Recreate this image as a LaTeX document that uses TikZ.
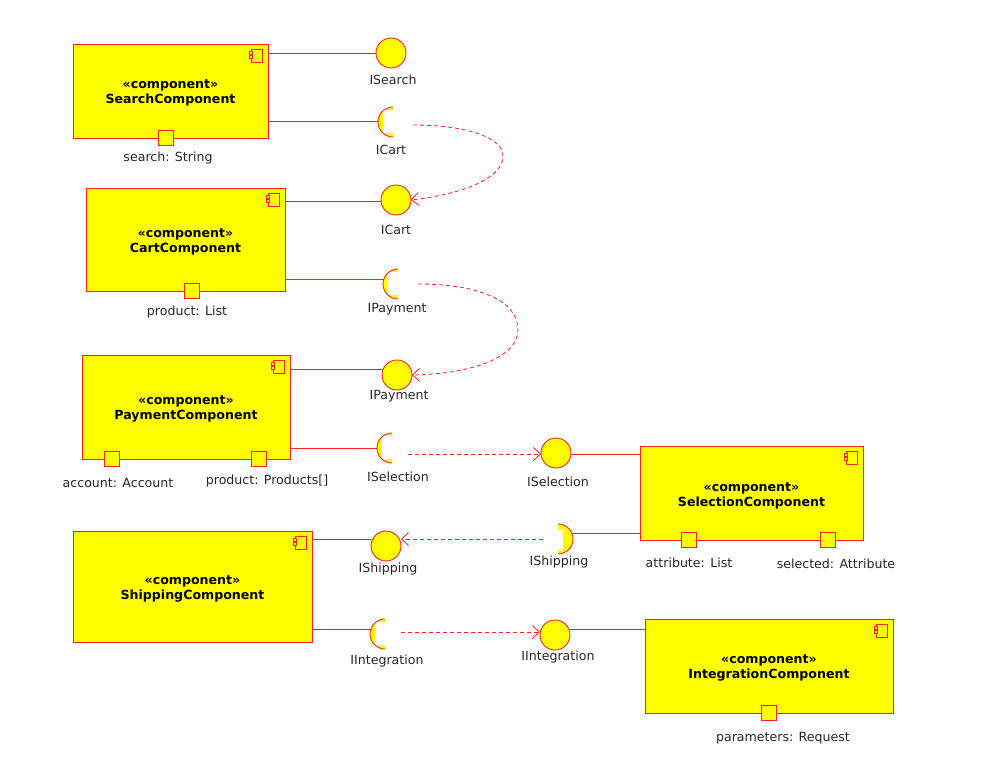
\documentclass[tikz,border=0pt]{standalone}
\usepackage{fontspec}
\setmainfont{DejaVu Sans}
\usetikzlibrary{arrows.meta}
\definecolor{ured}{HTML}{FF2020}
\definecolor{uyel}{HTML}{FFFF00}
\newcommand{\topstrut}{\rule{0pt}{13.6pt}}
\tikzset{
  comp/.style={draw=ured, fill=uyel, line width=0.9pt, anchor=north west, inner sep=0pt, outer sep=0pt, align=center, font=\fontsize{12.6}{15}\selectfont\bfseries},
  port/.style={draw=ured, fill=uyel, line width=0.9pt, minimum size=15pt, inner sep=0pt, outer sep=0pt},
  lolli/.style={circle, draw=ured, fill=uyel, line width=0.9pt, minimum size=30pt, inner sep=0pt, outer sep=0pt},
  lbl/.style={font=\fontsize{12.6}{14}\selectfont, inner sep=0pt, text=black!85, yshift=-1.5pt},
  conn/.style={draw=ured, line width=0.9pt},
  dep/.style={draw=ured, line width=0.8pt, dash pattern=on 4pt off 3pt, -{Straight Barb[length=7pt,width=13pt]}},
}
\newcommand{\compicon}[1]{%
  \draw[ured, line width=0.8pt, fill=uyel] ([xshift=-17pt,yshift=-5pt]#1.north east) rectangle ([xshift=-6pt,yshift=-18pt]#1.north east);
  \draw[ured, line width=0.6pt, fill=uyel] ([xshift=-19pt,yshift=-7.5pt]#1.north east) rectangle ([xshift=-16pt,yshift=-10pt]#1.north east);
  \draw[ured, line width=0.6pt, fill=uyel] ([xshift=-19pt,yshift=-11.5pt]#1.north east) rectangle ([xshift=-16pt,yshift=-14pt]#1.north east);
}
% socket opening to the right; #1 = name of coordinate at its centre
\newcommand{\socketR}[1]{%
  \fill[uyel] ([yshift=15pt]#1) arc[start angle=90,end angle=270,radius=15pt] -- cycle;
  \fill[white] ([xshift=-10pt,yshift=-11pt]#1) rectangle ([xshift=1pt,yshift=12pt]#1);
  \draw[ured, line width=0.9pt] ([yshift=15pt]#1) arc[start angle=90,end angle=270,radius=15pt];
}
% socket opening to the left
\newcommand{\socketL}[1]{%
  \fill[uyel] ([yshift=15pt]#1) arc[start angle=90,end angle=-90,radius=15pt] -- cycle;
  \fill[white] ([xshift=-1pt,yshift=-11pt]#1) rectangle ([xshift=5pt,yshift=9pt]#1);
  \draw[ured, line width=0.9pt] ([yshift=15pt]#1) arc[start angle=90,end angle=-90,radius=15pt];
}
\begin{document}
\begin{tikzpicture}[x=1pt,y=-1pt]
\useasboundingbox (0,0) rectangle (1006,780);

% ---------- components ----------
\node[comp, minimum width=195pt, minimum height=94pt] (search) at (73,44) {\topstrut«component»\\SearchComponent};
\node[comp, minimum width=199pt, minimum height=103pt] (cart) at (86,188) {\topstrut«component»\\CartComponent};
\node[comp, minimum width=208pt, minimum height=104pt] (payment) at (82,355) {\topstrut«component»\\PaymentComponent};
\node[comp, minimum width=223pt, minimum height=94pt] (selection) at (640,446) {\topstrut«component»\\SelectionComponent};
\node[comp, minimum width=239pt, minimum height=111pt] (shipping) at (73,531) {\topstrut«component»\\ShippingComponent};
\node[comp, minimum width=248pt, minimum height=94pt] (integration) at (645,619) {\topstrut«component»\\IntegrationComponent};
\foreach \c in {search,cart,payment,selection,shipping,integration} {\compicon{\c}}

% ---------- ports ----------
\node[port] (psearch) at (166,138) {};
\node[lbl] at (168,157) {search: String};
\node[port] (pcart) at (192,291) {};
\node[lbl] at (187,311) {product: List};
\node[port] (pacc) at (112,459) {};
\node[lbl] at (118,481) {account: Account};
\node[port] (pprod) at (259,459) {};
\node[lbl] at (267,480) {product: Products[]};
\node[port] (pattr) at (689,540) {};
\node[lbl] at (689,561) {attribute: List};
\node[port] (psel) at (828,540) {};
\node[lbl] at (836,562) {selected: Attribute};
\node[port] (pparam) at (769,713) {};
\node[lbl] at (783,737) {parameters: Request};

% ---------- provided interfaces (lollipops) ----------
\node[lolli] (isearch) at (391,53) {};
\node[lbl] at (393,78) {ISearch};
\node[lolli] (icart) at (396,200) {};
\node[lbl] at (396,228) {ICart};
\node[lolli] (ipay) at (397,375) {};
\node[lbl] at (399,395) {IPayment};
\node[lolli] (isel) at (556,453) {};
\node[lbl] at (558,480) {ISelection};
\node[lolli] (iship) at (386,546) {};
\node[lbl] at (388,568) {IShipping};
\node[lolli] (iint) at (555,635) {};
\node[lbl] at (558,656) {IIntegration};

% ---------- required interfaces (sockets) ----------
\coordinate (rcart) at (393,122);
\coordinate (rpay) at (398,284);
\coordinate (rsel) at (392,448);
\coordinate (rship) at (558,539);
\coordinate (rint) at (385,634);
\socketR{rcart}
\socketR{rpay}
\socketR{rsel}
\socketL{rship}
\socketR{rint}
\node[lbl] at (391,148) {ICart};
\node[lbl] at (397,308) {IPayment};
\node[lbl] at (398,475) {ISelection};
\node[lbl] at (559,561) {IShipping};
\node[lbl] at (387,660) {IIntegration};

% socket attachment points
\coordinate (rcartw) at (378,121);
\coordinate (rpayw) at (384,279);
\coordinate (rselw) at (377,448);
\coordinate (rshipe) at (572,533);
\coordinate (rintw) at (371,629);

% ---------- assembly lines ----------
\draw[conn] (search.east |- isearch) -- (isearch.west);
\draw[conn] (search.east |- rcartw) -- (rcartw);
\draw[conn] (cart.east |- 0,201) -- (icart.west |- 0,201);
\draw[conn] (cart.east |- rpayw) -- (rpayw);
\draw[conn] (payment.east |- 0,369) -- (ipay.west |- 0,369);
\draw[conn] (payment.east |- rselw) -- (rselw);
\draw[conn] (isel.east |- 0,454) -- (selection.west |- 0,454);
\draw[conn] (rshipe) -- (selection.west |- rshipe);
\draw[conn] (shipping.east |- 0,539) -- (iship.west |- 0,539);
\draw[conn] (shipping.east |- rintw) -- (rintw);
\draw[conn] (iint.east |- 0,629) -- (integration.west |- 0,629);

% ---------- dependencies ----------
\coordinate (dcart) at (413,125);
\coordinate (dpay) at (418,284);
\coordinate (dsel) at (408,454);
\coordinate (dship) at (543,539);
\coordinate (dint) at (401,632);
\draw[dep] (dcart) .. controls (468,125) and (503,138) .. (503,156) .. controls (503,176) and (470,193) .. (icart.east);
\draw[dep] (dpay) .. controls (478,284) and (518,300) .. (518,330) .. controls (518,358) and (470,374) .. (ipay.east);
\draw[dep] (dsel) -- (isel.west |- 0,454);
\draw[dep] (dship) -- (iship.east |- 0,539);
\draw[dep] (dint) -- (iint.west |- 0,632);
\end{tikzpicture}
\end{document}
